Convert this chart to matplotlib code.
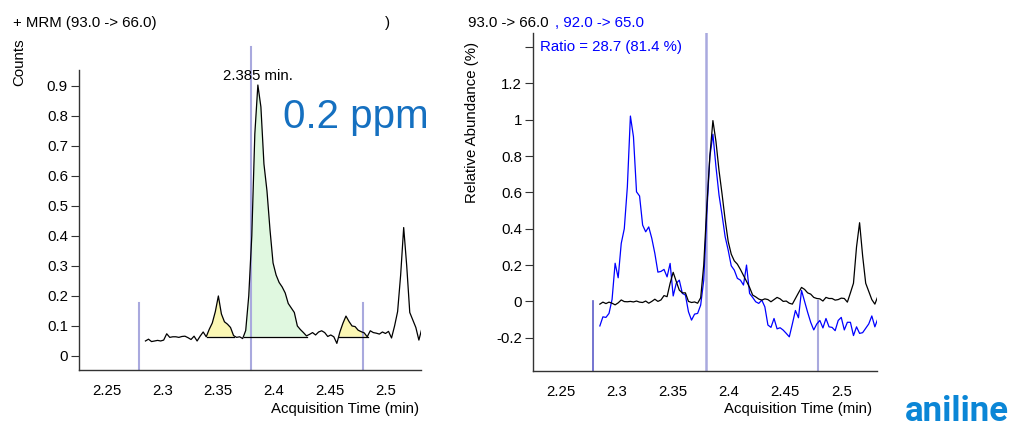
import numpy as np
import matplotlib
matplotlib.use("Agg")
import matplotlib.pyplot as plt

plt.rcParams['font.family'] = ['Liberation Sans', 'DejaVu Sans']

# ---- data ----
t_start = 2.2849
t_step = 0.00272

counts_93_66 = [0.050, 0.056, 0.048, 0.050, 0.052, 0.050, 0.053, 0.074, 0.062, 0.064,
                0.064, 0.062, 0.065, 0.066, 0.061, 0.055, 0.066, 0.050, 0.066, 0.080,
                0.064, 0.089, 0.110, 0.148, 0.200, 0.140, 0.114, 0.106, 0.095, 0.068,
                0.062, 0.064, 0.058, 0.085, 0.200, 0.400, 0.740, 0.903, 0.830, 0.640,
                0.550, 0.420, 0.310, 0.270, 0.245, 0.230, 0.210, 0.175, 0.160, 0.145,
                0.100, 0.088, 0.078, 0.067, 0.072, 0.078, 0.070, 0.080, 0.084, 0.078,
                0.065, 0.070, 0.064, 0.042, 0.080, 0.109, 0.133, 0.115, 0.100, 0.098,
                0.086, 0.081, 0.077, 0.064, 0.084, 0.078, 0.076, 0.073, 0.080, 0.075,
                0.082, 0.060, 0.100, 0.148, 0.270, 0.428, 0.300, 0.145, 0.120, 0.095,
                0.053, 0.092]

rel_93_66 = [-0.015, -0.004, -0.012, -0.004, -0.010, -0.019, -0.008, 0.008, -0.001, -0.002,
             0.000, -0.003, 0.002, -0.004, -0.006, 0.002, -0.010, 0.000, 0.012, 0.000,
             0.008, 0.032, 0.026, 0.100, 0.160, 0.110, 0.062, 0.047, 0.047, 0.000,
             -0.006, -0.003, -0.010, 0.020, 0.200, 0.520, 0.800, 0.995, 0.880, 0.720,
             0.590, 0.450, 0.330, 0.260, 0.223, 0.205, 0.176, 0.143, 0.110, 0.077,
             0.035, 0.025, 0.013, 0.007, 0.014, 0.010, -0.002, 0.010, 0.022, 0.014,
             0.000, 0.002, -0.010, -0.015, 0.016, 0.047, 0.077, 0.066, 0.047, 0.040,
             0.022, 0.016, 0.014, 0.002, 0.022, 0.016, 0.016, 0.007, 0.010, 0.018,
             0.016, -0.004, 0.047, 0.100, 0.300, 0.433, 0.250, 0.100, 0.055, 0.010,
             -0.015, 0.029]

rel_92_65 = [-0.135, -0.085, -0.088, -0.066, 0.011, 0.210, 0.130, 0.319, 0.400, 0.630,
             1.020, 0.906, 0.603, 0.580, 0.420, 0.383, 0.410, 0.347, 0.264, 0.161,
             0.165, 0.176, 0.135, 0.209, 0.030, 0.099, 0.117, 0.044, 0.035, -0.057,
             -0.103, -0.070, -0.066, -0.020, 0.117, 0.484, 0.796, 0.920, 0.741, 0.585,
             0.475, 0.356, 0.282, 0.196, 0.172, 0.127, 0.117, 0.090, 0.200, 0.044,
             0.022, -0.002, -0.011, 0.007, -0.030, -0.130, -0.143, -0.094, -0.151, -0.145,
             -0.158, -0.176, -0.195, -0.124, -0.050, -0.090, 0.060, 0.000, -0.060, -0.115,
             -0.157, -0.124, -0.105, -0.146, -0.094, -0.140, -0.143, -0.161, -0.105, -0.088,
             -0.157, -0.115, -0.115, -0.188, -0.140, -0.176, -0.172, -0.148, -0.124, -0.080,
             -0.140, -0.094]

integration_baseline = 0.064
peak_windows = [(2.3397, 2.3642, 'minor'), (2.3731, 2.4299, 'main'), (2.4582, 2.4845, 'minor')]
marker_times = [2.2790, 2.3795, 2.4795]

x_ticks = [2.25, 2.3, 2.35, 2.4, 2.45, 2.5]
x_ticklabels = ['2.25', '2.3', '2.35', '2.4', '2.45', '2.5']
left_yticks = [0, 0.1, 0.2, 0.3, 0.4, 0.5, 0.6, 0.7, 0.8, 0.9]
left_yticklabels = ['0', '0.1', '0.2', '0.3', '0.4', '0.5', '0.6', '0.7', '0.8', '0.9']
right_yticks = [-0.2, 0, 0.2, 0.4, 0.6, 0.8, 1.0, 1.2, 1.4]
right_yticklabels = ['-0.2', '0', '0.2', '0.4', '0.6', '0.8', '1', '1.2', '']

t = t_start + t_step * np.arange(len(counts_93_66))

# ---- figure ----
W, H = 1014, 429
fig = plt.figure(figsize=(W / 100, H / 100), dpi=100)

def ax_rect(x0, y0, x1, y1):
    return [x0 / W, 1 - y1 / H, (x1 - x0) / W, (y1 - y0) / H]

def fxy(px, py):
    return px / W, 1 - py / H

FS = 10.8
XL = (2.2254, 2.5316)

axL = fig.add_axes(ax_rect(79, 70, 421, 370))
axR = fig.add_axes(ax_rect(533, 33, 877, 371))

for ax in (axL, axR):
    ax.set_xlim(*XL)
    for s in ('top', 'right'):
        ax.spines[s].set_visible(False)
    for s in ('left', 'bottom'):
        ax.spines[s].set_color('#333333')
        ax.spines[s].set_linewidth(1.0)
    ax.set_xticks(x_ticks)
    ax.set_xticklabels(x_ticklabels)
    ax.tick_params(axis='x', length=0, pad=10, labelsize=FS)
    ax.tick_params(axis='y', length=6, width=0.8, pad=2, labelsize=FS, color='#333333')
    ax.patch.set_visible(False)

# left panel
axL.set_ylim(-0.0467, 0.953)
axL.set_yticks(left_yticks)
axL.set_yticklabels(left_yticklabels)

yarr = np.array(counts_93_66)
for a, b, kind in peak_windows:
    m = (t > a) & (t < b)
    ya = np.interp(a, t, yarr)
    yb = np.interp(b, t, yarr)
    xs = np.concatenate([[a, a], t[m], [b, b]])
    ys = np.concatenate([[integration_baseline, ya], yarr[m], [yb, integration_baseline]])
    color = '#e0f8e0' if kind == 'main' else '#fbf7b4'
    axL.fill(xs, ys, color=color, lw=0, zorder=1)
    axL.plot([a, b], [integration_baseline, integration_baseline], color='black', lw=0.9, zorder=3)

axL.plot(t, yarr, color='black', lw=0.9, zorder=4)

vcol = '#a9a9de'
axL.plot([marker_times[0]] * 2, [-0.0467, 0.175], color=vcol, lw=1.5, zorder=2)
axL.plot([marker_times[1]] * 2, [-0.0467, 1.03], color=vcol, lw=1.5, zorder=2, clip_on=False)
axL.plot([marker_times[2]] * 2, [-0.0467, 0.175], color=vcol, lw=1.5, zorder=2)

axL.text(t[int(np.argmax(yarr))], 0.933, '2.385 min.', ha='center', va='center', fontsize=FS)

# right panel
axR.set_ylim(-0.383, 1.477)
axR.set_yticks(right_yticks)
axR.set_yticklabels(right_yticklabels)
axR.plot(t, rel_92_65, color='#0000ff', lw=0.9, zorder=3)
axR.plot(t, rel_93_66, color='black', lw=0.9, zorder=4)
axR.plot([marker_times[0]] * 2, [-0.383, 0.0], color='#5c5cc8', lw=1.2, zorder=2)
axR.plot([marker_times[1]] * 2, [-0.383, 1.477], color=vcol, lw=1.8, zorder=2)
axR.plot([marker_times[2]] * 2, [-0.383, 0.0], color=vcol, lw=1.5, zorder=2)

# ---- texts ----
fig.text(*fxy(13, 23), '+ MRM (93.0 -> 66.0)', fontsize=FS, ha='left', va='center')
fig.text(*fxy(385, 23), ')', fontsize=FS, ha='left', va='center')
fig.text(*fxy(19, 62), 'Counts', fontsize=FS, rotation=90, ha='center', va='center')
fig.text(*fxy(419, 409), 'Acquisition Time (min)', fontsize=FS, ha='right', va='center')
fig.text(*fxy(356, 117), '0.2 ppm', fontsize=29, color='#1570c0', ha='center', va='center')

fig.text(*fxy(468, 23), '93.0 -> 66.0', fontsize=FS, ha='left', va='center')
fig.text(*fxy(555, 23), ', 92.0 -> 65.0', fontsize=FS, color='#0000ff', ha='left', va='center')
fig.text(*fxy(540, 47), 'Ratio = 28.7 (81.4 %)', fontsize=FS, color='#0000ff', ha='left', va='center')
fig.text(*fxy(472, 122), 'Relative Abundance (%)', fontsize=FS, rotation=90, ha='center', va='center')
fig.text(*fxy(872, 409), 'Acquisition Time (min)', fontsize=FS, ha='right', va='center')
fig.text(*fxy(1009, 421), 'aniline', fontsize=25, color='#0b86d6', fontweight='bold',
         family=['Roboto', 'DejaVu Sans'], ha='right', va='baseline')

fig.savefig('out.png', dpi=100)
